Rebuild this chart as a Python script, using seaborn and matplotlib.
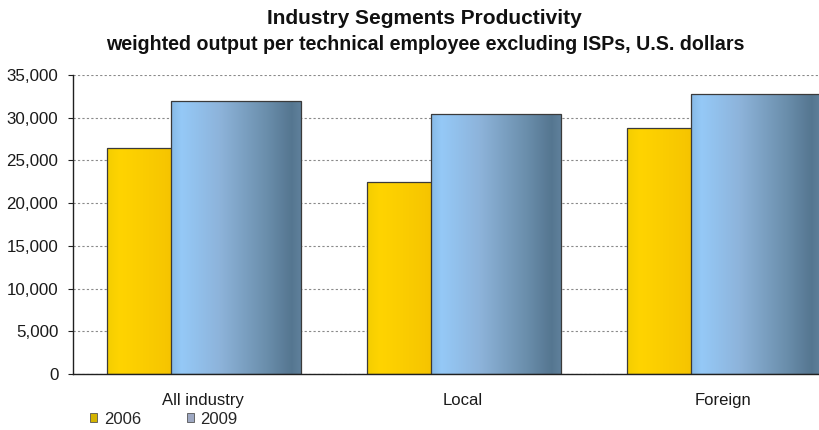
import numpy as np
import pandas as pd
import matplotlib
matplotlib.use("Agg")
import matplotlib.pyplot as plt
from matplotlib.colors import LinearSegmentedColormap
from matplotlib.patches import Rectangle
from matplotlib.ticker import FuncFormatter
import seaborn as sns

# Data
segments = ["All industry", "Local", "Foreign"]
years = ["2006", "2009"]
values_2006 = [26500, 22500, 28800]
values_2009 = [31900, 30400, 32800]
y_ticks = [0, 5000, 10000, 15000, 20000, 25000, 30000, 35000]

title = "Industry Segments Productivity"
subtitle = "weighted output per technical employee excluding ISPs, U.S. dollars"

df = pd.DataFrame({
    "segment": segments * 2,
    "year": [years[0]] * 3 + [years[1]] * 3,
    "value": values_2006 + values_2009,
})

sns.set_theme(style="white")
plt.rcParams["font.family"] = ["Liberation Sans", "DejaVu Sans"]

fig = plt.figure(figsize=(8.2, 4.3), dpi=100)
ax = fig.add_axes([73 / 820, 56 / 430, 780 / 820, 299 / 430])

sns.barplot(data=df, x="segment", y="value", hue="year",
            palette=["#F2C400", "#7FA8D0"], width=0.8, dodge=True,
            legend=False, ax=ax, zorder=2)

# Gradient colour maps for the bar faces
cmap_2006 = LinearSegmentedColormap.from_list(
    "g2006", [(0.0, "#F4CE00"), (0.1, "#FFD400"), (0.45, "#F7C600"),
              (0.75, "#E4AC00"), (1.0, "#D9A000")])
cmap_2009 = LinearSegmentedColormap.from_list(
    "g2009", [(0.0, "#86B9E6"), (0.08, "#95C9F7"), (0.38, "#8DB3DA"),
              (0.72, "#6C90AE"), (0.93, "#557690"), (1.0, "#5F809B")])

bar_w = 0.5
grad = np.linspace(0, 1, 256).reshape(1, -1)
for p in list(ax.patches):
    cx = p.get_x() + p.get_width() / 2
    cat = round(cx)
    is_2006 = cx < cat
    h = p.get_height()
    left = cat - 0.37 if is_2006 else cat - 0.123
    p.set_x(left)
    p.set_width(bar_w)
    z = 2 if is_2006 else 3
    p.set_zorder(z)
    p.set_facecolor("none")
    p.set_edgecolor("#3A3A3A")
    p.set_linewidth(0.9)
    im = ax.imshow(grad, aspect="auto", cmap=cmap_2006 if is_2006 else cmap_2009,
                   extent=[left, left + bar_w, 0, h], zorder=z - 0.1,
                   interpolation="bicubic")
    im.set_clip_path(p)
    # opaque backing so the front bar hides the one behind
    back = Rectangle((left, 0), bar_w, h, facecolor="white", edgecolor="none",
                     zorder=z - 0.2)
    ax.add_patch(back)

ax.set_xlim(-0.5, 2.5)
ax.set_ylim(0, 35000)
ax.set_yticks(y_ticks)
ax.yaxis.set_major_formatter(FuncFormatter(lambda v, _: f"{int(v):,}"))
ax.set_xlabel("")
ax.set_ylabel("")

ax.yaxis.grid(True, linestyle=(0, (2, 2)), color="#8A8A8A", linewidth=0.8, zorder=0)
ax.xaxis.grid(False)
ax.set_axisbelow(True)

for s in ["top", "right"]:
    ax.spines[s].set_visible(False)
for s in ["left", "bottom"]:
    ax.spines[s].set_color("#202020")
    ax.spines[s].set_linewidth(1.0)
    ax.spines[s].set_zorder(5)

ax.tick_params(axis="y", which="major", left=True, length=3.6, width=0.8,
               color="#202020", labelsize=12.2, labelcolor="#1A1A1A", pad=7)
ax.tick_params(axis="x", which="major", bottom=False, labelsize=12,
               labelcolor="#1A1A1A", pad=8)

fig.text(0.517, 0.958, title, ha="center", va="center",
         fontsize=15, fontweight="bold", color="#111111")
fig.text(0.518, 0.897, subtitle, ha="center", va="center",
         fontsize=14.1, fontweight="bold", color="#111111")

handles = [Rectangle((0, 0), 1, 1, facecolor="#D4B400", edgecolor="#555555", lw=0.6),
           Rectangle((0, 0), 1, 1, facecolor="#9EA8C2", edgecolor="#555555", lw=0.6)]
fig.legend(handles, years, loc="center left", bbox_to_anchor=(90 / 820, 1 - 419 / 430),
           ncol=2, frameon=False, fontsize=12, handlelength=0.42, handleheight=0.42,
           handletextpad=0.4, columnspacing=2.75, borderpad=0, borderaxespad=0)

fig.savefig("out.png", dpi=100, facecolor="white")
